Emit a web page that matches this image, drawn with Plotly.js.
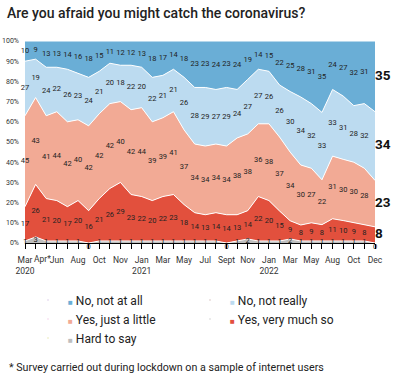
<!DOCTYPE html>
<html>
<head>
<meta charset="utf-8">
<script src="https://cdn.plot.ly/plotly-3.0.1.min.js"></script>
<style>html,body{margin:0;padding:0;background:#fff;}#chart{width:397px;height:378px;}</style>
</head>
<body>
<div id="chart"></div>
<script>
// Survey waves, tick labels ('' = unlabeled wave); the 2nd wave label is drawn beside its tick
const tickLabels = ['Mar<br>2020','Apr*','','Jun','','Aug','','Oct','','Nov','','Jan<br>2021','','Mar','','May','','Jul','','Sept','','Nov','','Jan<br>2022','','Mar','','May','','Aug','','Oct','','Dec'];

// Series values (%)
const notAtAll   = [10,9,13,13,14,16,18,15,11,12,12,13,18,17,14,18,23,23,24,23,24,19,14,15,22,25,28,31,35,24,27,32,31,35];
const notReally  = [27,19,24,22,26,23,24,21,20,18,22,20,22,21,21,26,28,29,27,29,24,27,27,26,26,30,34,32,33,33,31,28,32,34];
const justLittle = [45,43,41,44,42,40,42,42,42,40,42,44,39,39,41,37,34,34,34,34,38,38,36,38,37,34,30,27,22,31,30,30,28,23];
const veryMuch   = [17,26,21,20,17,20,16,21,26,29,23,22,20,22,23,18,14,13,14,14,13,14,22,20,15,9,8,9,8,11,10,9,8,8];
const hardToSay  = [1,3,1,1,1,1,0,1,1,1,1,1,1,1,1,1,1,1,1,0,1,2,1,1,1,2,1,1,1,1,1,1,1,0];

const seriesNames = ['Hard to say','Yes, very much so','Yes, just a little','No, not really','No, not at all'];
const seriesData = [hardToSay, veryMuch, justLittle, notReally, notAtAll];
const colors = ['#bebebe','#e2503d','#f2aa95','#bcdbf0','#6aaed6'];

const x = tickLabels.map((_, i) => i);
const last = x.length - 1;
const totals = x.map(i => seriesData.reduce((s, d) => s + d[i], 0));
const shiftedTick = 1; // "Apr*" is nudged right so it does not collide with "Mar"
const axisText = tickLabels.map((t, i) => i === shiftedTick ? '' : t);

const traces = [];
// stacked areas
seriesData.forEach((d, k) => {
  traces.push({
    type: 'scatter', mode: 'lines', x: x, y: d,
    stackgroup: 'one', groupnorm: k === 0 ? 'percent' : undefined,
    line: {color: '#ffffff', width: 1, shape: 'linear'},
    fillcolor: colors[k], name: seriesNames[k], showlegend: false, hoverinfo: 'skip'
  });
});

// data labels at the middle of each band
const font = 'Roboto, "Liberation Sans", Arial, sans-serif';
let base = x.map(() => 0);
seriesData.forEach((d, k) => {
  const mids = x.map(i => (base[i] + d[i] / 2) * 100 / totals[i]);
  const idx = k === 0 ? x : x.slice(0, last);
  traces.push({
    type: 'scatter', mode: 'text', x: idx, y: idx.map(i => mids[i]),
    text: idx.map(i => String(d[i])),
    textposition: idx.map(i => (k === 0 && d[i] === 0) ? 'bottom center' : 'middle center'),
    textfont: {family: font, size: 7.5, color: '#222'},
    cliponaxis: false, showlegend: false, hoverinfo: 'skip'
  });
  if (k > 0) {
    traces.push({
      type: 'scatter', mode: 'text', x: [last], y: [mids[last]],
      text: [String(d[last])], textposition: 'middle right',
      textfont: {family: font, size: 13.5, color: '#111', weight: 700},
      cliponaxis: false, showlegend: false, hoverinfo: 'skip'
    });
  }
  base = base.map((b, i) => b + d[i]);
});

// legend entries (order as in the reference)
[4, 3, 2, 1, 0].forEach(k => {
  traces.push({
    type: 'scatter', mode: 'markers', x: [null], y: [null],
    marker: {opacity: 0, size: 1},
    name: '<span style="color:' + colors[k] + ';font-size:8px">\u25A0</span> ' + seriesNames[k],
    showlegend: true, hoverinfo: 'skip'
  });
});

const tickFont = {family: font, size: 8.5, color: '#333'};
const layout = {
  width: 397, height: 378,
  margin: {l: 25, r: 22, t: 41, b: 135},
  paper_bgcolor: '#fff', plot_bgcolor: '#fff',
  showlegend: true,
  title: {
    text: 'Are you afraid you might catch the coronavirus?',
    font: {family: font, size: 14, color: '#222', weight: 500},
    xref: 'container', yref: 'container', x: 7/397, xanchor: 'left', y: 1 - 13/378, yanchor: 'middle'
  },
  xaxis: {
    type: 'linear', range: [0, last], fixedrange: true,
    tickmode: 'array', tickvals: x, ticktext: axisText, tickangle: 0,
    ticks: 'outside', ticklen: 5, tickwidth: 1, tickcolor: '#000',
    ticklabelstandoff: 4,
    showline: true, linecolor: '#000', linewidth: 1,
    showgrid: false, zeroline: false,
    tickfont: tickFont
  },
  yaxis: {
    range: [0, 100], dtick: 10, ticksuffix: '%', fixedrange: true,
    showgrid: false, zeroline: false, showline: false, ticks: '',
    ticklabelstandoff: 5,
    tickfont: {family: font, size: 7, color: '#333'}
  },
  legend: {
    orientation: 'h', traceorder: 'normal', x: 3/350, xanchor: 'left', y: -0.21, yanchor: 'top',
    entrywidth: 117, font: {family: font, size: 12, color: '#222'},
    bgcolor: 'rgba(0,0,0,0)', itemclick: false, itemdoubleclick: false
  },
  annotations: [{
    text: tickLabels[shiftedTick], xref: 'x', yref: 'paper', x: x[shiftedTick], y: 0,
    xanchor: 'center', yanchor: 'top', xshift: 6.5, yshift: -10, showarrow: false,
    font: tickFont, borderpad: 0
  }, {
    text: '* Survey carried out during lockdown on a sample of internet users',
    xref: 'paper', yref: 'paper', x: -18/350, xanchor: 'left', y: -124/202, yanchor: 'middle',
    showarrow: false, font: {family: font, size: 10.7, color: '#222'}
  }]
};

Plotly.newPlot('chart', traces, layout, {staticPlot: true, displayModeBar: false});
</script>
</body>
</html>
